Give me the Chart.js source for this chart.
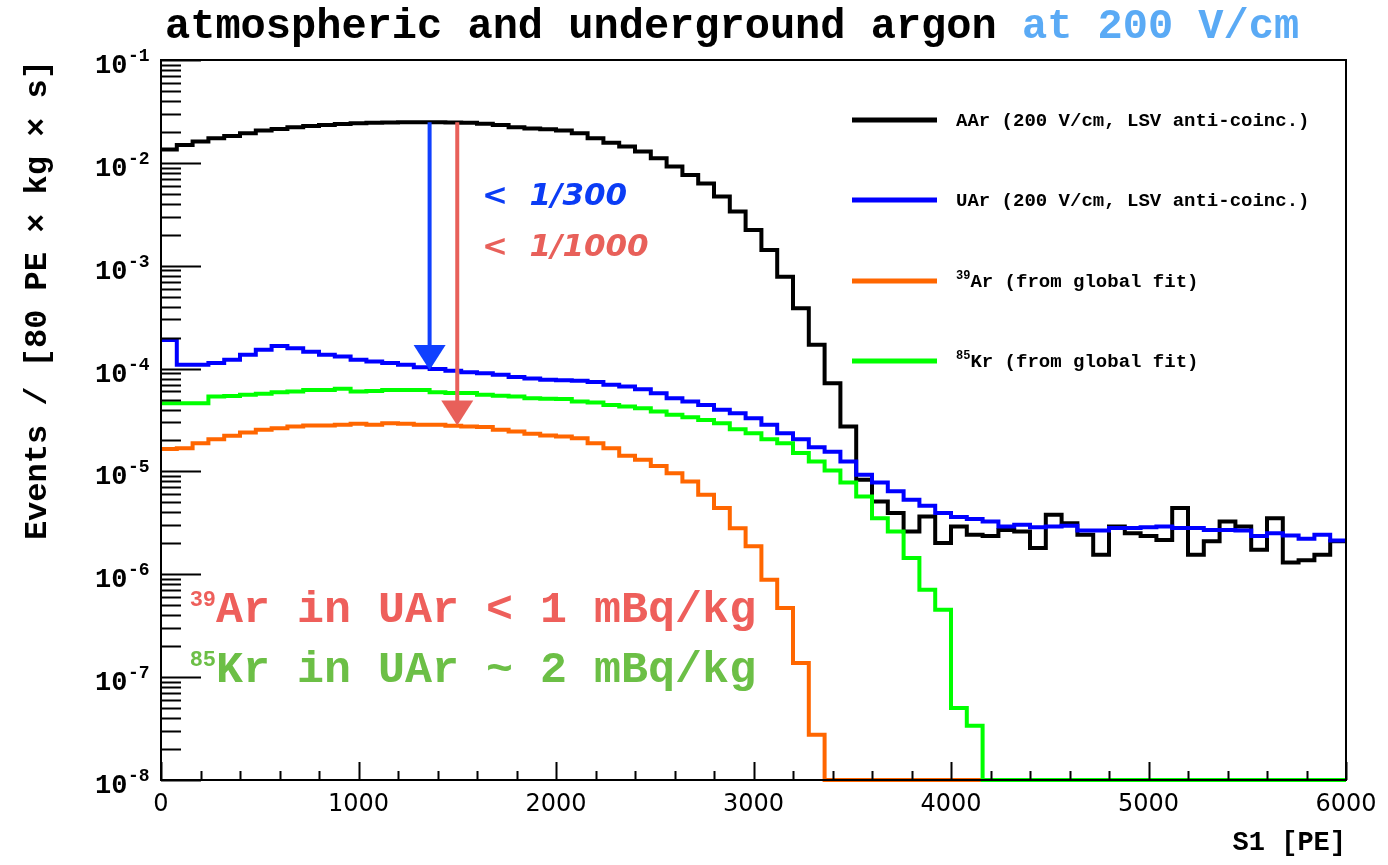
<!DOCTYPE html>
<html>
<head>
<meta charset="utf-8">
<title>atmospheric and underground argon at 200 V/cm</title>
<script src="https://cdn.jsdelivr.net/npm/chart.js@4.4.0/dist/chart.umd.min.js"></script>
<style>
html, body { margin: 0; padding: 0; background: #fff; }
#chart_instance { display: block; }
</style>
</head>
<body>
<canvas id="chart_instance" width="1388" height="865"></canvas>
<script>
// S1 spectra, 80 PE bins from 0 to 6000 PE (75 bins), events / [80 PE x kg x s]
var binWidth = 80;

var aarCounts = [
  1.35e-2, 1.49e-2, 1.61e-2, 1.73e-2, 1.82e-2, 1.94e-2, 2.06e-2, 2.13e-2, 2.22e-2, 2.28e-2,
  2.33e-2, 2.39e-2, 2.43e-2, 2.46e-2, 2.47e-2, 2.48e-2, 2.48e-2, 2.48e-2, 2.47e-2, 2.46e-2,
  2.40e-2, 2.33e-2, 2.22e-2, 2.16e-2, 2.12e-2, 2.06e-2, 1.94e-2, 1.73e-2, 1.57e-2, 1.44e-2,
  1.29e-2, 1.11e-2, 9.2e-3, 7.6e-3, 6.3e-3, 4.7e-3, 3.36e-3, 2.23e-3, 1.42e-3, 7.8e-4,
  3.86e-4, 1.70e-4, 7.2e-5, 2.73e-5, 8.3e-6, 5.1e-6, 3.94e-6, 2.61e-6, 3.65e-6, 2.01e-6,
  2.92e-6, 2.42e-6, 2.35e-6, 2.70e-6, 2.61e-6, 1.80e-6, 3.79e-6, 3.14e-6, 2.42e-6, 1.55e-6,
  2.92e-6, 2.51e-6, 2.35e-6, 2.16e-6, 4.4e-6, 1.55e-6, 2.09e-6, 3.26e-6, 2.92e-6, 1.73e-6,
  3.51e-6, 1.30e-6, 1.37e-6, 1.55e-6, 2.1e-6
];

var uarCounts = [
  1.90e-4, 1.09e-4, 1.09e-4, 1.13e-4, 1.22e-4, 1.36e-4, 1.52e-4, 1.66e-4, 1.58e-4, 1.46e-4,
  1.36e-4, 1.31e-4, 1.22e-4, 1.17e-4, 1.13e-4, 1.09e-4, 1.03e-4, 9.9e-5, 9.5e-5, 9.2e-5,
  9.0e-5, 8.7e-5, 8.3e-5, 8.0e-5, 7.8e-5, 7.7e-5, 7.6e-5, 7.4e-5, 6.95e-5, 6.7e-5,
  6.3e-5, 5.77e-5, 5.15e-5, 4.78e-5, 4.43e-5, 3.97e-5, 3.68e-5, 3.29e-5, 2.84e-5, 2.35e-5,
  2.05e-5, 1.72e-5, 1.55e-5, 1.25e-5, 9.3e-6, 7.8e-6, 6.4e-6, 5.3e-6, 4.63e-6, 3.94e-6,
  3.6e-6, 3.44e-6, 3.26e-6, 2.92e-6, 3.03e-6, 2.86e-6, 2.92e-6, 2.97e-6, 2.67e-6, 2.67e-6,
  2.82e-6, 2.82e-6, 2.86e-6, 2.92e-6, 2.82e-6, 2.82e-6, 2.70e-6, 2.70e-6, 2.67e-6, 2.35e-6,
  2.51e-6, 2.38e-6, 2.22e-6, 2.42e-6, 2.13e-6
];

var ar39Counts = [
  1.65e-5, 1.68e-5, 1.88e-5, 2.06e-5, 2.22e-5, 2.39e-5, 2.54e-5, 2.63e-5, 2.73e-5, 2.80e-5,
  2.80e-5, 2.84e-5, 2.90e-5, 2.84e-5, 2.94e-5, 2.90e-5, 2.84e-5, 2.84e-5, 2.78e-5, 2.73e-5,
  2.70e-5, 2.54e-5, 2.45e-5, 2.33e-5, 2.24e-5, 2.19e-5, 2.10e-5, 1.88e-5, 1.68e-5, 1.42e-5,
  1.30e-5, 1.13e-5, 9.6e-6, 7.98e-6, 5.93e-6, 4.4e-6, 2.81e-6, 1.87e-6, 8.85e-7, 4.69e-7,
  1.37e-7, 2.75e-8, 0, 0, 0, 0, 0, 0, 0, 0,
  0, 0, 0, 0, 0, 0, 0, 0, 0, 0,
  0, 0, 0, 0, 0, 0, 0, 0, 0, 0,
  0, 0, 0, 0, 0
];

var kr85Counts = [
  4.6e-5, 4.6e-5, 4.6e-5, 5.34e-5, 5.4e-5, 5.55e-5, 5.68e-5, 5.87e-5, 6.0e-5, 6.2e-5,
  6.2e-5, 6.35e-5, 6.0e-5, 6.05e-5, 6.2e-5, 6.2e-5, 6.2e-5, 5.87e-5, 5.8e-5, 5.8e-5,
  5.55e-5, 5.43e-5, 5.34e-5, 5.15e-5, 5.1e-5, 5.05e-5, 4.78e-5, 4.68e-5, 4.43e-5, 4.28e-5,
  4.12e-5, 3.82e-5, 3.55e-5, 3.37e-5, 3.17e-5, 2.94e-5, 2.57e-5, 2.35e-5, 2.06e-5, 1.88e-5,
  1.51e-5, 1.25e-5, 1.02e-5, 7.8e-6, 5.7e-6, 3.51e-6, 2.61e-6, 1.44e-6, 7.06e-7, 4.52e-7,
  5.0e-8, 3.37e-8, 0, 0, 0, 0, 0, 0, 0, 0,
  0, 0, 0, 0, 0, 0, 0, 0, 0, 0,
  0, 0, 0, 0, 0
];

var seriesLabels = ['AAr (200 V/cm, LSV anti-coinc.)', 'UAr (200 V/cm, LSV anti-coinc.)', 'Ar (from global fit)', 'Kr (from global fit)'];
var seriesSup = ['', '', '39', '85'];
var seriesColors = ['#000000', '#0000ff', '#ff6600', '#00ff00'];

var xTickValues = [0, 1000, 2000, 3000, 4000, 5000, 6000];
var yTickValues = [1e-8, 1e-7, 1e-6, 1e-5, 1e-4, 1e-3, 1e-2, 1e-1];
var yTickExponents = ['-8', '-7', '-6', '-5', '-4', '-3', '-2', '-1'];

// reduction arrows: AAr -> UAr (blue), AAr -> 39Ar (red)
var arrowX = [1360, 1500];
var arrowTop = [2.48e-2, 2.48e-2];
var arrowBottom = [9.7e-5, 2.8e-5];
var arrowColors = ['#1040ff', '#e8605a'];

var yMin = 1e-8, yMax = 1e-1, xMin = 0, xMax = 6000;
var monoFont = '"Liberation Mono", "DejaVu Sans Mono", monospace';

function histPoints(counts) {
    var pts = [];
    for (var i = 0; i < counts.length; i++) {
        pts.push({ x: i * binWidth, y: Math.max(counts[i], yMin) });
    }
    pts.push({ x: counts.length * binWidth, y: Math.max(counts[counts.length - 1], yMin) });
    return pts;
}

function supText(ctx, x, y, sup, text, bigFont, smallFont, rise) {
    ctx.font = smallFont;
    ctx.fillText(sup, x, y - rise);
    var w = sup ? ctx.measureText(sup).width : 0;
    ctx.font = bigFont;
    ctx.fillText(text, x + w, y);
}

var rootStyle = {
    id: 'rootStyle',
    beforeDraw: function (chart) {
        var ctx = chart.ctx;
        ctx.save();
        ctx.fillStyle = '#ffffff';
        ctx.fillRect(0, 0, chart.width, chart.height);
        ctx.restore();
    },
    afterDatasetsDraw: function (chart) {
        var ctx = chart.ctx, xs = chart.scales.x, ys = chart.scales.y;
        ctx.save();
        for (var i = 0; i < arrowX.length; i++) {
            var px = xs.getPixelForValue(arrowX[i]);
            var y0 = ys.getPixelForValue(arrowTop[i]);
            var y1 = ys.getPixelForValue(arrowBottom[i]);
            ctx.strokeStyle = arrowColors[i];
            ctx.fillStyle = arrowColors[i];
            ctx.lineWidth = 4;
            ctx.beginPath();
            ctx.moveTo(px, y0);
            ctx.lineTo(px, y1 - 20);
            ctx.stroke();
            ctx.beginPath();
            ctx.moveTo(px - 16, y1 - 25);
            ctx.lineTo(px + 16, y1 - 25);
            ctx.lineTo(px, y1);
            ctx.closePath();
            ctx.fill();
        }
        ctx.restore();
    },
    afterDraw: function (chart) {
        var ctx = chart.ctx, a = chart.chartArea, xs = chart.scales.x, ys = chart.scales.y;
        ctx.save();

        // frame
        ctx.strokeStyle = '#000';
        ctx.lineWidth = 2;
        ctx.strokeRect(a.left, a.top, a.right - a.left, a.bottom - a.top);

        // y ticks (inside, log minor)
        ctx.lineWidth = 2;
        ctx.beginPath();
        for (var e = -8; e <= -1; e++) {
            for (var m = 1; m <= 9; m++) {
                var v = m * Math.pow(10, e);
                if (v > yMax * 1.0001) break;
                var py = Math.round(ys.getPixelForValue(v)) + 0.5;
                var len = (m === 1) ? 40 : 20;
                ctx.moveTo(a.left, py);
                ctx.lineTo(a.left + len, py);
            }
        }
        // x ticks (inside)
        for (var xv = xMin; xv <= xMax; xv += 200) {
            var px = Math.round(xs.getPixelForValue(xv)) + 0.5;
            var tl = (xv % 1000 === 0) ? 18 : 9;
            ctx.moveTo(px, a.bottom);
            ctx.lineTo(px, a.bottom - tl);
        }
        ctx.stroke();

        // y tick labels: 10 with a raised exponent
        ctx.fillStyle = '#000';
        ctx.textBaseline = 'alphabetic';
        ctx.textAlign = 'left';
        for (var k = 0; k < yTickValues.length; k++) {
            var ty = ys.getPixelForValue(yTickValues[k]);
            ctx.font = 'bold 27px ' + monoFont;
            ctx.fillText('10', 95, ty + 13);
            ctx.font = 'bold 18px ' + monoFont;
            ctx.fillText(yTickExponents[k], 128, ty + 1);
        }

        // title
        ctx.font = 'bold 42px ' + monoFont;
        var t1 = 'atmospheric and underground argon ';
        ctx.fillStyle = '#000';
        ctx.fillText(t1, 165, 38);
        ctx.fillStyle = '#5aaaf5';
        ctx.fillText('at 200 V/cm', 165 + ctx.measureText(t1).width, 38);

        // legend
        var legY = [120, 200, 281, 361];
        for (var i = 0; i < seriesLabels.length; i++) {
            ctx.strokeStyle = seriesColors[i];
            ctx.lineWidth = 5;
            ctx.beginPath();
            ctx.moveTo(852, legY[i]);
            ctx.lineTo(937, legY[i]);
            ctx.stroke();
            ctx.fillStyle = '#000';
            supText(ctx, 956, legY[i] + 6, seriesSup[i], seriesLabels[i],
                'bold 19px ' + monoFont, 'bold 12px ' + monoFont, 8);
        }

        // reduction factors
        ctx.font = 'italic bold 31px "DejaVu Sans", sans-serif';
        ctx.fillStyle = '#0b3cf5';
        ctx.fillText('<  1/300', xs.getPixelForValue(1625), ys.getPixelForValue(3.9e-3));
        ctx.fillStyle = '#e8605a';
        ctx.fillText('<  1/1000', xs.getPixelForValue(1625), ys.getPixelForValue(1.24e-3));

        // contamination notes
        ctx.fillStyle = '#ee5f5b';
        supText(ctx, xs.getPixelForValue(145), ys.getPixelForValue(3.45e-7), '39', 'Ar in UAr < 1 mBq/kg',
            'bold 45px ' + monoFont, 'bold 22px ' + monoFont, 16);
        ctx.fillStyle = '#6cbf46';
        supText(ctx, xs.getPixelForValue(145), ys.getPixelForValue(9.0e-8), '85', 'Kr in UAr ~ 2 mBq/kg',
            'bold 45px ' + monoFont, 'bold 22px ' + monoFont, 16);

        ctx.restore();
    }
};

var chart_instance;
window.onload = function () {
    var canvas = document.getElementById('chart_instance').getContext('2d');
    var allCounts = [aarCounts, uarCounts, ar39Counts, kr85Counts];
    var datasets = [];
    for (var i = 0; i < allCounts.length; i++) {
        datasets.push({
            label: (seriesSup[i] ? seriesSup[i] : '') + seriesLabels[i],
            data: histPoints(allCounts[i]),
            borderColor: seriesColors[i],
            backgroundColor: seriesColors[i],
            borderWidth: 4,
            stepped: 'before',
            pointRadius: 0,
            fill: false,
            clip: false,
            borderJoinStyle: 'miter',
            borderCapStyle: 'butt',
            order: allCounts.length - 1 - i
        });
    }

    chart_instance = new Chart(canvas, {
        type: 'line',
        data: { datasets: datasets },
        plugins: [rootStyle],
        options: {
            responsive: false,
            animation: false,
            layout: { padding: { top: 60, right: 42, left: 0, bottom: 0 } },
            plugins: {
                legend: { display: false },
                tooltip: { enabled: false },
                title: { display: false }
            },
            scales: {
                x: {
                    type: 'linear',
                    min: xMin,
                    max: xMax,
                    grid: { display: false, drawTicks: false },
                    border: { display: false },
                    afterBuildTicks: function (axis) {
                        axis.ticks = xTickValues.map(function (v) { return { value: v }; });
                    },
                    afterFit: function (scale) { scale.height = 85; },
                    ticks: {
                        autoSkip: false,
                        maxRotation: 0,
                        padding: 10,
                        color: '#000',
                        font: { family: '"DejaVu Sans", sans-serif', size: 24 },
                        callback: function (v) { return String(v); }
                    },
                    title: {
                        display: true,
                        text: 'S1 [PE]',
                        align: 'end',
                        color: '#000',
                        font: { family: monoFont, size: 27, weight: 'bold' },
                        padding: { top: 0, bottom: 6 }
                    }
                },
                y: {
                    type: 'logarithmic',
                    min: yMin,
                    max: yMax,
                    grid: { display: false, drawTicks: false },
                    border: { display: false },
                    afterBuildTicks: function (axis) {
                        axis.ticks = yTickValues.map(function (v) { return { value: v }; });
                    },
                    afterFit: function (scale) { scale.width = 161; },
                    ticks: { display: false },
                    title: {
                        display: true,
                        text: 'Events / [80 PE \u00D7 kg \u00D7 s]',
                        align: 'end',
                        color: '#000',
                        font: { family: monoFont, size: 32, weight: 'bold' },
                        padding: { top: 19, bottom: 0 }
                    }
                }
            }
        }
    });
};
</script>
</body>
</html>
